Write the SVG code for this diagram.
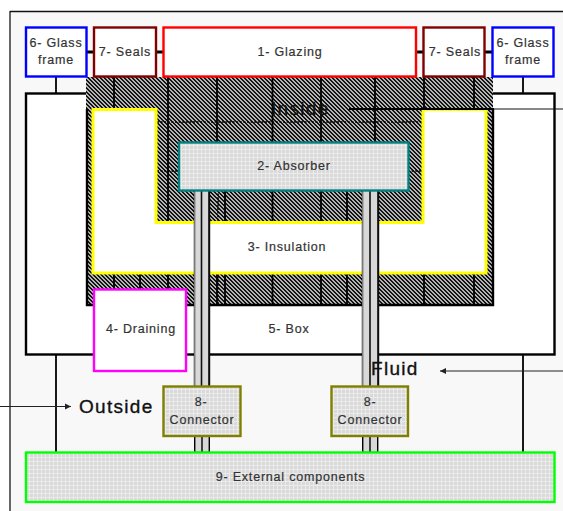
<svg xmlns="http://www.w3.org/2000/svg" width="563" height="511" viewBox="0 0 563 511">
<style>
text{font-family:"Liberation Sans",Arial,sans-serif;font-size:12.5px;fill:#333;stroke:#333;stroke-width:.2px;text-anchor:middle;letter-spacing:.8px}
.big{font-size:19px;fill:#111;stroke:#111;stroke-width:.35px;text-anchor:start;letter-spacing:1.300px}
.n{fill:#fff;stroke-width:2.4px}
.c{stroke:#000;stroke-width:1.800px;fill:none}
.d{stroke:#000;stroke-width:1.500px;fill:none;stroke-dasharray:2 1.600}
.a{stroke:#222;stroke-width:1.200px;fill:none}
.t{fill:#d8d8d8;stroke:#000;stroke-width:1.400px}
</style>
<defs>
<pattern id="hatch" width="4" height="4" patternUnits="userSpaceOnUse">
<rect width="4" height="4" fill="#141414"/>
<path d="M0 0h2v1H0zM1 1h2v1H1zM2 2h2v1H2zM3 3h1v1H3zM0 3h1v1H0z" fill="#b4b4b4" shape-rendering="crispEdges"/>
</pattern>
<pattern id="grid" width="4" height="4" patternUnits="userSpaceOnUse">
<rect width="4" height="4" fill="#d9d9d9"/>
<path d="M0 1.500H4M1.500 0V4" stroke="#ebebeb" stroke-width="1"/>
</pattern>
<marker id="ah" markerWidth="7" markerHeight="7" refX="6" refY="3.500" orient="auto" markerUnits="userSpaceOnUse">
<path d="M0 .5L6 3.500L0 6.500Z" fill="#222"/>
</marker>
</defs>
<rect x="10" y="11" width="553" height="500" fill="#f8f8f8"/>
<path d="M10 511V11" stroke="#666" stroke-width="2"/>
<path d="M10 11.500H563" stroke="#111" stroke-width="1.400"/>
<g id="box">
<rect x="26" y="93.500" width="528.500" height="261" fill="#fff" stroke="#000" stroke-width="2.400"/>
<rect x="86" y="77" width="407" height="229" fill="url(#hatch)"/>
<path d="M87 109V305H493V109" fill="none" stroke="#000" stroke-width="2.400"/>
<text x="289" y="333">5- Box</text>
</g>
<g id="connectors">
<path class="c" d="M114 77V109M114 273V306M168 77V306M217 77V142M217 273V306M272.500 77V306M321 77V306M375 77V142M375 190V222M375 273V306M424 77V109M424 273V306M474 77V109M474 273V306M140 271V289M225 190V224M225 271V306M347 190V226M347 271V306"/>
<path class="d" d="M157 122H423M157 171H179M408 171H423M218 190V222M218 273V306"/>
<path class="c" d="M56 76V93M523 76V93M56 354V452M523 354V452"/>
<path stroke="#000" stroke-width="3" d="M86 52H94M156 52H163M416 52H424M485 52H492"/>
</g>
<g id="n3">
<path d="M93 109.500H156V222.500H423V109.500H486V273H93Z" fill="#fff" stroke="#ff0" stroke-width="3"/>
<text x="287" y="251">3- Insulation</text>
</g>
<g id="n4">
<rect class="n" x="94" y="289.500" width="92" height="81.500" stroke="#f0f"/>
<text x="141" y="333">4- Draining</text>
</g>
<g id="tube1">
<rect class="t" x="194.500" y="190" width="15" height="246" stroke="none"/>
<path d="M201.500 190V436M209 190V436" stroke="#111" stroke-width="1.600"/>
<path d="M194.500 190V436" stroke="#999" stroke-width=".8"/>
<rect class="t" x="194.700" y="436" width="14.600" height="16.500"/>
<path d="M202 436V452" stroke="#000" stroke-width="1.400"/>
</g>
<g id="tube2">
<rect class="t" x="362.500" y="190" width="16" height="246" stroke="none"/>
<path d="M370 190V436M378 190V436" stroke="#111" stroke-width="1.600"/>
<path d="M362.500 190V436" stroke="#999" stroke-width=".8"/>
<rect class="t" x="362.700" y="436" width="15" height="16.500"/>
<path d="M370 436V452" stroke="#000" stroke-width="1.400"/>
</g>
<g id="n2">
<rect x="179" y="142.500" width="229.500" height="48" fill="url(#grid)" stroke="#008080" stroke-width="2.400"/>
<text x="294" y="170">2- Absorber</text>
</g>
<g id="n1">
<rect class="n" x="163.500" y="27.500" width="252.500" height="49" stroke="#f00"/>
<text x="290" y="56">1- Glazing</text>
</g>
<g id="n7a">
<rect class="n" x="94" y="27.500" width="62" height="49" stroke="#800000"/>
<text x="125" y="56">7- Seals</text>
</g>
<g id="n7b">
<rect class="n" x="423.500" y="27.500" width="61" height="49" stroke="#800000"/>
<text x="455" y="56">7- Seals</text>
</g>
<g id="n6a">
<rect class="n" x="26" y="27.500" width="60.500" height="49" stroke="#00f"/>
<text x="56" y="47">6- Glass</text>
<text x="56" y="64">frame</text>
</g>
<g id="n6b">
<rect class="n" x="492.500" y="27.500" width="61" height="49" stroke="#00f"/>
<text x="523" y="47">6- Glass</text>
<text x="523" y="64">frame</text>
</g>
<g id="n8a">
<rect x="163.500" y="386.500" width="77" height="49.500" fill="url(#grid)" stroke="#808000" stroke-width="2.400"/>
<text x="201" y="406">8-</text>
<text x="202" y="424">Connector</text>
</g>
<g id="n8b">
<rect x="331.500" y="386.500" width="76.500" height="49.500" fill="url(#grid)" stroke="#808000" stroke-width="2.400"/>
<text x="370" y="406">8-</text>
<text x="370" y="424">Connector</text>
</g>
<g id="n9">
<rect x="26" y="452.500" width="528.500" height="49.500" fill="url(#grid)" stroke="#0f0" stroke-width="2.400"/>
<text x="290.500" y="481">9- External components</text>
</g>
<g id="labels">
<path class="a" d="M0 406.500H71" marker-end="url(#ah)"/>
<path class="a" d="M563 371H440" marker-end="url(#ah)"/>
<path d="M563 109H494" stroke="#111" stroke-width="1.200"/>
<path d="M494 109H349" stroke="#000" stroke-width="2"/>
<text class="big" x="79" y="413">Outside</text>
<text class="big" x="371" y="375">Fluid</text>
<text class="big" x="271" y="115">Inside</text>
</g>
</svg>
